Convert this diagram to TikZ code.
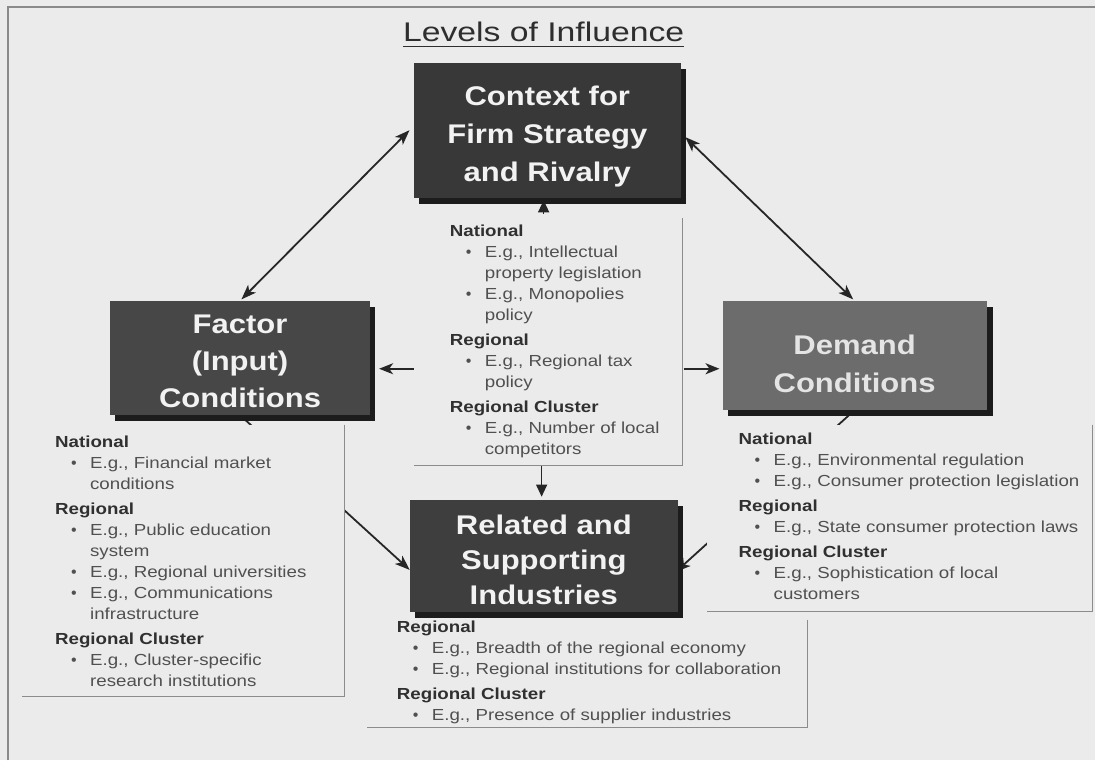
\documentclass[tikz,border=0pt]{standalone}
\usepackage{fontspec}
\setmainfont{Liberation Sans}[FakeStretch=1.25]
\newfontfamily\plainfont{Liberation Sans}
\newfontfamily\boxfont{Liberation Sans}[FakeStretch=1.15]
\newfontfamily\infofont{Liberation Sans}[FakeStretch=1.17]
\usetikzlibrary{arrows.meta,shadows}
\definecolor{bgc}{HTML}{EBEBEB}
\definecolor{framec}{HTML}{8A8A8A}
\definecolor{ttl}{HTML}{2E2E2E}
\definecolor{ctxfill}{HTML}{383838}
\definecolor{facfill}{HTML}{474747}
\definecolor{relfill}{HTML}{3E3E3E}
\definecolor{demfill}{HTML}{6C6C6C}
\definecolor{shc}{HTML}{1C1C1C}
\definecolor{boxtxt}{HTML}{F2F2F2}
\definecolor{demtxt}{HTML}{E4E4E4}
\definecolor{hdr}{HTML}{303030}
\definecolor{itemc}{HTML}{505050}
\definecolor{plc}{HTML}{8C8C8C}
\definecolor{arrc}{HTML}{262626}
\newcommand{\hd}[1]{{\bfseries\color{hdr}#1}}
\newcommand{\itm}[1]{\hspace*{16pt}\makebox[19pt][l]{\plainfont\textbullet}#1}
\newcommand{\cnt}[1]{\hspace*{35pt}#1}
\newcommand{\tp}[1]{\rule{0pt}{#1}}
\pgfdeclarelayer{back}
\pgfdeclarelayer{arrows}
\pgfsetlayers{back,arrows,main}
\tikzset{
  bigbox/.style={anchor=north west, inner sep=0pt, text=boxtxt, align=center,
    font=\boxfont\bfseries\fontsize{27}{38}\selectfont,
    drop shadow={shadow xshift=5pt, shadow yshift=-6pt, fill=shc, opacity=1}},
  info/.style={anchor=north west, inner sep=0pt, align=left, text=itemc,
    font=\infofont\fontsize{16}{21}\selectfont},
  panel/.style={anchor=north west, inner sep=0pt, fill=bgc},
  pline/.style={draw=plc, line width=1pt},
  link/.style={draw=arrc, line width=1.8pt, -{Stealth[length=15pt,width=11pt,inset=4pt]}},
  dlink/.style={draw=arrc, line width=1.8pt,
    {Stealth[length=15pt,width=11pt,inset=4pt]}-{Stealth[length=15pt,width=11pt,inset=4pt]}},
  tri/.style={draw=arrc, line width=1.2pt, -{Triangle[length=12pt,width=11pt]}},
}
\begin{document}
\begin{tikzpicture}[x=1pt,y=-1pt]
\begin{pgfonlayer}{back}
  \fill[bgc] (0,0) rectangle (1096,761);
  \draw[framec, line width=1.5pt] (8,761) -- (8,7) -- (1096,7);
\end{pgfonlayer}

% title
\node[font=\fontsize{27}{30}\selectfont, text=ttl, inner sep=0pt, anchor=base] (title) at (544,42) {Levels of Influence};
\draw[ttl, line width=1.5pt] ([yshift=-4.5pt]title.base west) -- ([yshift=-4.5pt]title.base east);

% main boxes
\node[bigbox, fill=ctxfill, minimum width=267pt, minimum height=135pt] (ctx) at (414,63) {\tp{32pt}Context for\\Firm Strategy\\and Rivalry};
\node[bigbox, fill=facfill, minimum width=260pt, minimum height=114pt,
      font=\boxfont\bfseries\fontsize{27}{37}\selectfont] (fac) at (110,301) {\tp{26pt}Factor\\(Input)\\Conditions};
\node[bigbox, fill=demfill, text=demtxt, minimum width=264pt, minimum height=109pt,
      drop shadow={shadow xshift=6pt, shadow yshift=-6pt, fill=shc, opacity=1}] (dem) at (723,301) {\tp{36pt}Demand\\Conditions};
\node[bigbox, fill=relfill, minimum width=268pt, minimum height=112pt,
      font=\boxfont\bfseries\fontsize{27}{35}\selectfont] (rel) at (410,500) {\tp{27pt}Related and\\Supporting\\Industries};

% info panels
\node[panel, minimum width=269pt, minimum height=247pt] (cpanel) at (414,218) {};
\node[panel, minimum width=322pt, minimum height=272pt] (fpanel) at (22,425) {};
\node[panel, minimum width=386pt, minimum height=187pt] (dpanel) at (707,425) {};
\node[panel, minimum width=441pt, minimum height=108pt] (rpanel) at (367,620) {};
\draw[pline] (cpanel.north east) -- (cpanel.south east) -- (cpanel.south west);
\draw[pline] (fpanel.north east) -- (fpanel.south east) -- (fpanel.south west);
\draw[pline] (dpanel.north east) -- (dpanel.south east) -- (dpanel.south west);
\draw[pline] (rpanel.north east) -- (rpanel.south east) -- (rpanel.south west);

\node[info] (ctext) at (450,225) {\hd{National}\\
\itm{E.g., Intellectual}\\
\cnt{property legislation}\\
\itm{E.g., Monopolies}\\
\cnt{policy}\\[4pt]
\hd{Regional}\\
\itm{E.g., Regional tax}\\
\cnt{policy}\\[4pt]
\hd{Regional Cluster}\\
\itm{E.g., Number of local}\\
\cnt{competitors}};

\node[info] (ftext) at (55,436) {\hd{National}\\
\itm{E.g., Financial market}\\
\cnt{conditions}\\[4pt]
\hd{Regional}\\
\itm{E.g., Public education}\\
\cnt{system}\\
\itm{E.g., Regional universities}\\
\itm{E.g., Communications}\\
\cnt{infrastructure}\\[4pt]
\hd{Regional Cluster}\\
\itm{E.g., Cluster-specific}\\
\cnt{research institutions}};

\node[info] (dtext) at (739,433) {\hd{National}\\
\itm{E.g., Environmental regulation}\\
\itm{E.g., Consumer protection legislation}\\[4pt]
\hd{Regional}\\
\itm{E.g., State consumer protection laws}\\[4pt]
\hd{Regional Cluster}\\
\itm{E.g., Sophistication of local}\\
\cnt{customers}};

\node[info] (rtext) at (397,621) {\hd{Regional}\\
\itm{E.g., Breadth of the regional economy}\\
\itm{E.g., Regional institutions for collaboration}\\[4pt]
\hd{Regional Cluster}\\
\itm{E.g., Presence of supplier industries}};

% connectors
\coordinate (cl) at (414,369);
\coordinate (cr) at (684,369);
\coordinate (cu) at (544,214);
\coordinate (cd) at (542,466);
\begin{pgfonlayer}{arrows}
  \draw[dlink, shorten <=6pt, shorten >=2pt] (ctx.178) -- (fac.north);
  \draw[dlink, shorten <=6pt, shorten >=2pt] (ctx.-1) -- (dem.north);
  \draw[link] (fac.south) -- (rel.186);
  \draw[link, shorten >=-3pt] (dem.south) -- (rel.-6);
  \draw[link, -{Stealth[length=14pt,width=11pt,inset=4pt]}, shorten >=9pt] (cl) -- (fac.east |- cl);
  \draw[link, -{Stealth[length=14pt,width=11pt,inset=4pt]}, shorten >=3pt] (cr) -- (dem.west |- cr);
  \draw[tri, shorten >=2pt] (cu) -- (ctx.south -| cu);
  \draw[tri, shorten >=3pt] (cd) -- (rel.north -| cd);
\end{pgfonlayer}
\end{tikzpicture}
\end{document}
